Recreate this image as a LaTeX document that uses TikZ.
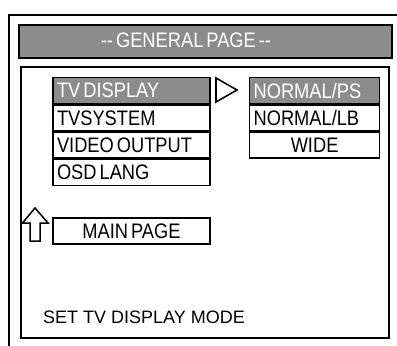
\documentclass[tikz,border=0pt]{standalone}
\usepackage{fontspec}
\setmainfont{Liberation Sans}
\newfontfamily\menufont[FakeStretch=0.87,WordSpace=0.6]{Liberation Sans}
\usetikzlibrary{positioning}

\begin{document}
\begin{tikzpicture}[x=1pt,y=-1pt,
    every node/.style={font=\menufont\fontsize{21}{23}\selectfont},
    item/.style={draw,line width=1.6pt,fill=white,inner xsep=4pt,inner ysep=0pt,
        minimum height=25.75pt,align=flush left},
    lcol/.style={item,text width=149pt},
    rcol/.style={item,text width=122pt},
    sel/.style={fill=black!45,text=white},
    bar/.style={draw,line width=2pt,fill=black!45,minimum width=373pt,minimum height=33pt}]
\useasboundingbox (0,0) rectangle (397,346);
% frame
\draw[line width=2pt] (8.5,346) -- (8.5,15) -- (397,15);
\draw[line width=2pt] (21,67) rectangle (389,337.5);
% title
\node[bar] (title) at (205.5,41.5) {};
\node[text=white,inner sep=0pt] (titletext) at ([xshift=-19.5pt,yshift=1pt]title.center) {-{}- GENERAL PAGE -{}-};
% menu
\node[lcol,sel] (tvdisp) at (131.5,90.5) {TV DISPLAY};
\node[lcol,below=0pt of tvdisp] (tvsys) {TVSYSTEM};
\node[lcol,below=0pt of tvsys] (vout) {VIDEO OUTPUT};
\node[lcol,below=0pt of vout] (osd) {OSD LANG};
\node[lcol,align=flush center,below=31pt of osd] (main) {MAIN PAGE};
% options
\node[rcol,sel,right=38pt of tvdisp] (nps) {NORMAL/PS};
\node[rcol,below=0pt of nps] (nlb) {NORMAL/LB};
\node[rcol,align=flush center,below=0pt of nlb] (wide) {WIDE};
% marks
\draw[line width=1.6pt,fill=white] (216,78) -- (237,90) -- (216,102) -- cycle;
\draw[line width=1.5pt,fill=white] (35,208) -- (48,223) -- (40,223) -- (40,241)
    -- (30,241) -- (30,223) -- (22.5,223) -- cycle;
% help line
\node[anchor=base west,inner sep=0pt,font=\rmfamily\fontsize{18}{20}\selectfont] (help) at (43,323) {SET TV DISPLAY MODE};
\end{tikzpicture}
\end{document}
